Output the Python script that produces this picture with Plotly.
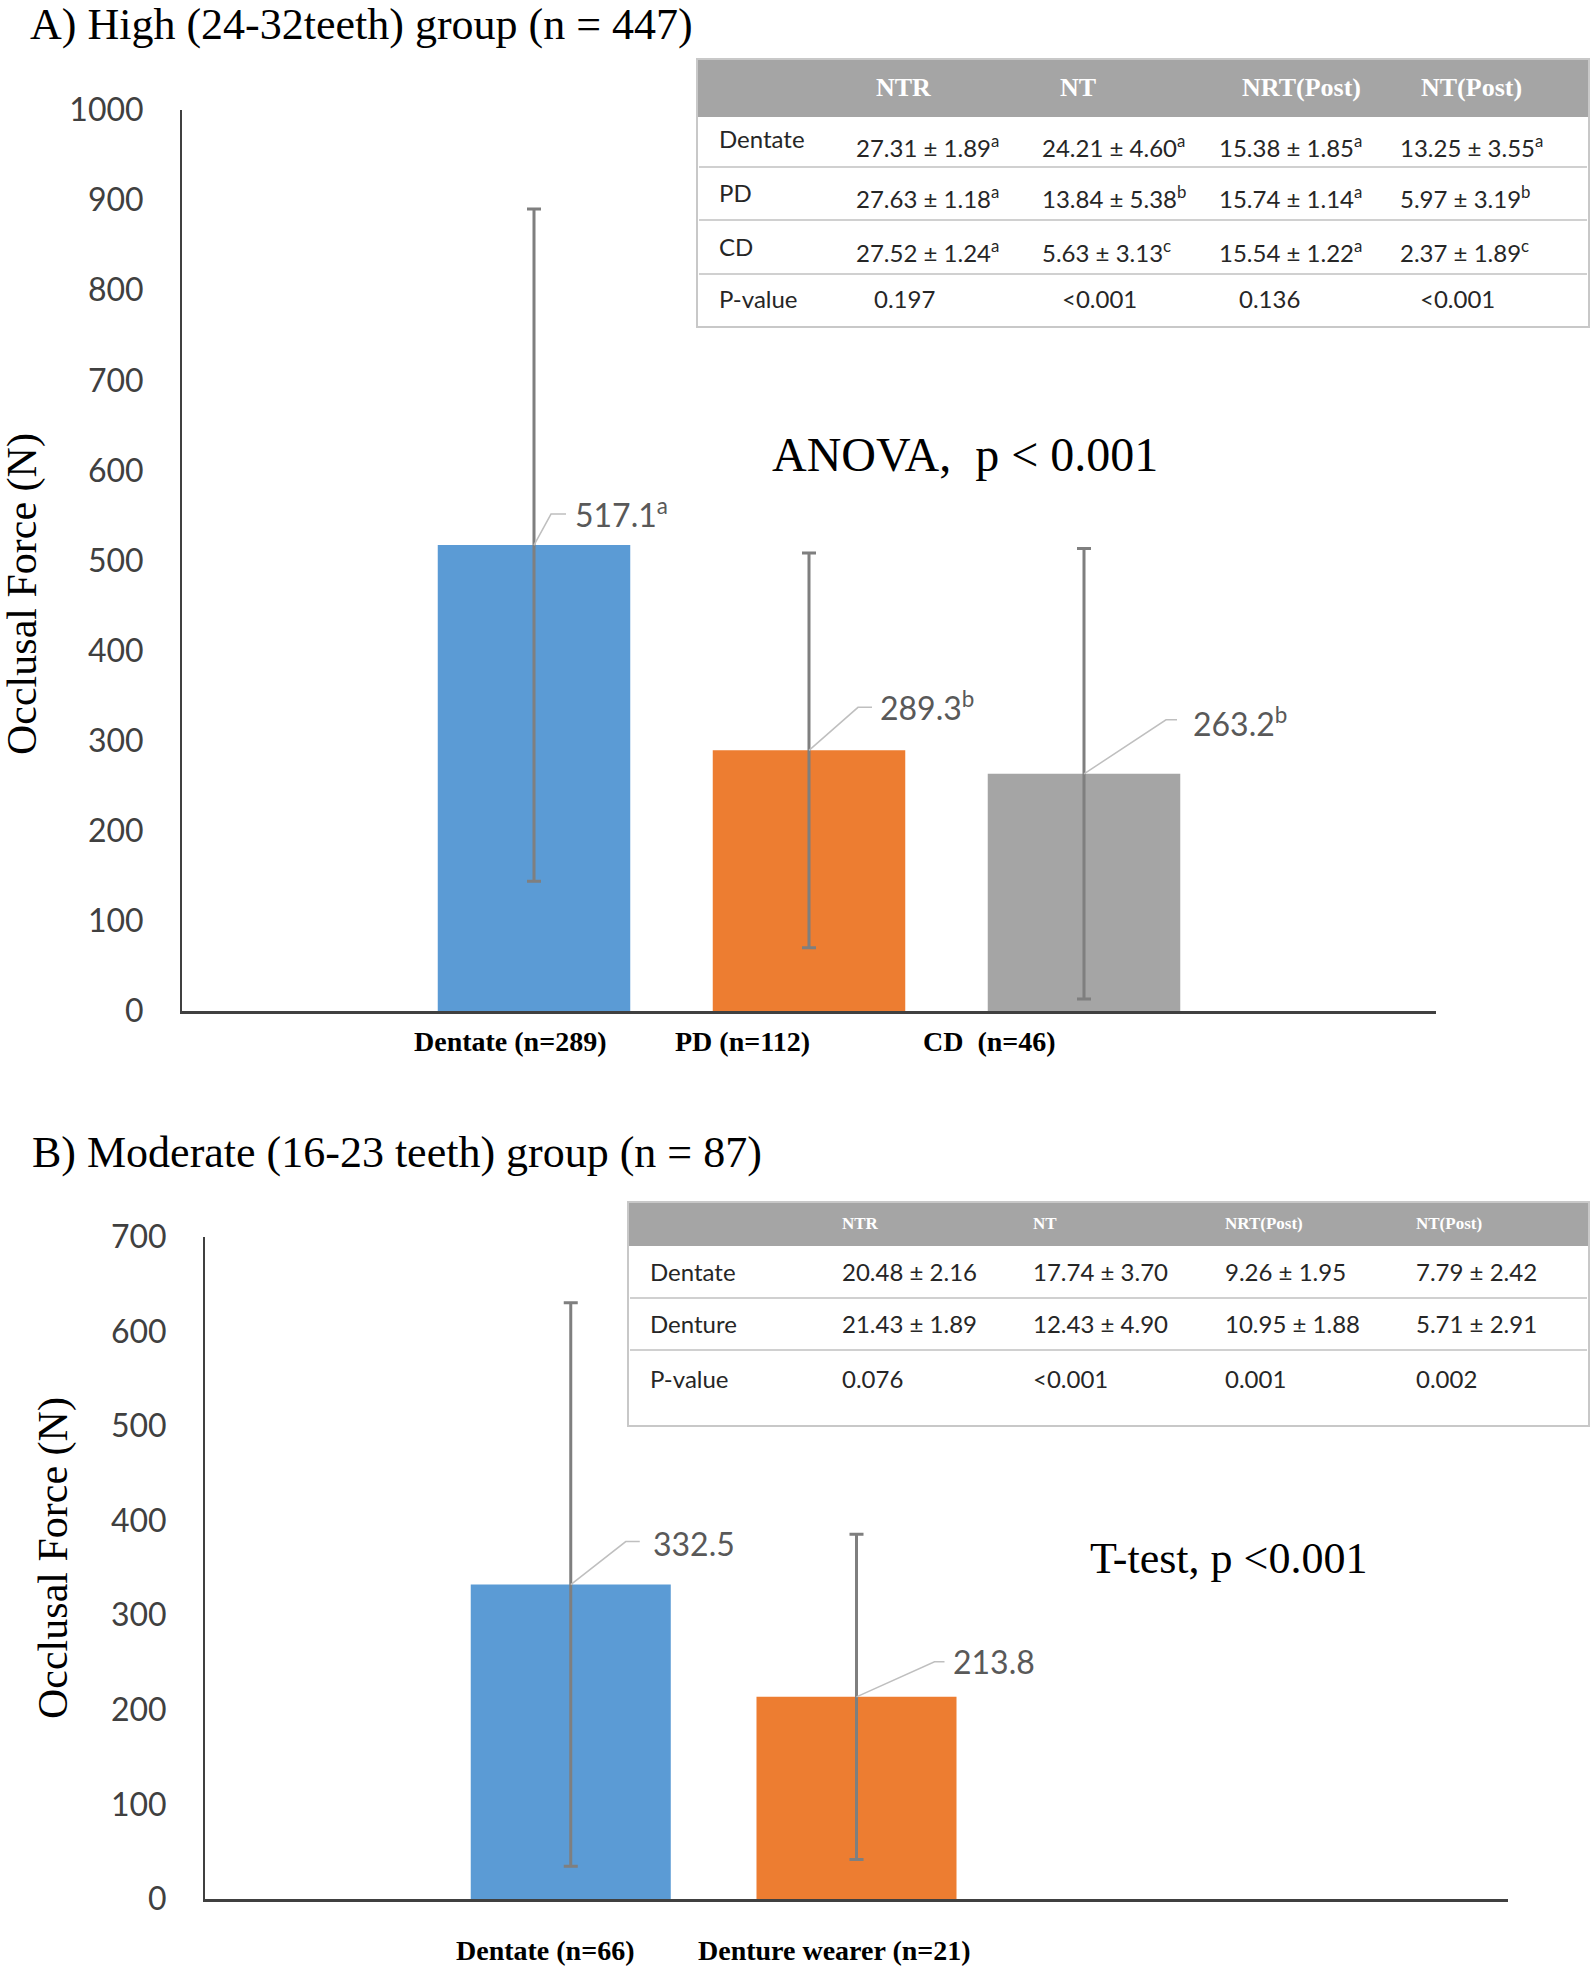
import plotly.graph_objects as go

W, H = 1594, 1970

# ---------------- data ----------------
# Panel A
a_groups = ["Dentate (n=289)", "PD (n=112)", "CD\u00a0\u00a0(n=46)"]
a_means = [517.1, 289.3, 263.2]
a_sd = [373, 219, 250]
a_sup = ["a", "b", "b"]
a_colors = ["#5B9BD5", "#ED7D31", "#A5A5A5"]

# Panel B
b_groups = ["Dentate (n=66)", "Denture wearer (n=21)"]
b_means = [332.5, 213.8]
b_sd = [298, 172]
b_colors = ["#5B9BD5", "#ED7D31"]

# Table A
ta_cols = ["NTR", "NT", "NRT(Post)", "NT(Post)"]
ta_rows = ["Dentate", "PD", "CD"]
ta_dentate = ["27.31 ± 1.89", "24.21 ± 4.60", "15.38 ± 1.85", "13.25 ± 3.55"]
ta_dentate_sup = ["a", "a", "a", "a"]
ta_pd = ["27.63 ± 1.18", "13.84 ± 5.38", "15.74 ± 1.14", "5.97 ± 3.19"]
ta_pd_sup = ["a", "b", "a", "b"]
ta_cd = ["27.52 ± 1.24", "5.63 ± 3.13", "15.54 ± 1.22", "2.37 ± 1.89"]
ta_cd_sup = ["a", "c", "a", "c"]
ta_p = ["0.197", "<0.001", "0.136", "<0.001"]

# Table B
tb_cols = ["NTR", "NT", "NRT(Post)", "NT(Post)"]
tb_rows = ["Dentate", "Denture", "P-value"]
tb_dentate = ["20.48 ± 2.16", "17.74 ± 3.70", "9.26 ± 1.95", "7.79 ± 2.42"]
tb_denture = ["21.43 ± 1.89", "12.43 ± 4.90", "10.95 ± 1.88", "5.71 ± 2.91"]
tb_p = ["0.076", "<0.001", "0.001", "0.002"]

# ---------------- helpers ----------------
def px(x):
    return x / W

def py(y):
    return 1 - y / H

SERIF = "Liberation Serif, Times New Roman, serif"
SANS = "Lato, Carlito, Calibri, sans-serif"
TICKC = "#404040"
LABC = "#595959"

fig = go.Figure()

fig.add_trace(go.Bar(
    x=list(range(len(a_means))), y=a_means, width=0.70,
    marker=dict(color=a_colors, line=dict(width=0)),
    error_y=dict(type="data", array=a_sd, color="#7F7F7F", thickness=3, width=7),
    xaxis="x", yaxis="y", hoverinfo="skip"))

fig.add_trace(go.Bar(
    x=list(range(len(b_means))), y=b_means, width=0.70,
    marker=dict(color=b_colors, line=dict(width=0)),
    error_y=dict(type="data", array=b_sd, color="#7F7F7F", thickness=3, width=7),
    xaxis="x2", yaxis="y2", hoverinfo="skip"))

shapes = []
annotations = []

# ---- leader lines + data labels ----
a_lead = [(17, 31, 32, 39, 32), (49, 43, 63, 69, 44), (82, 54, 93, 107, 52)]
b_lead = [(55, 43, 69, 80, 41), (78, 35, 88, 94, 35)]

def add_labels(means, sups, leads, xr, yr):
    for i, m in enumerate(means):
        dx1, dy, dx2, tx, ty = leads[i]
        shapes.append(dict(type="path", xref=xr, yref=yr, xsizemode="pixel", ysizemode="pixel",
                           xanchor=i, yanchor=m,
                           path=f"M0,0 L{dx1},{dy} L{dx2},{dy}",
                           line=dict(color="#BFBFBF", width=1.5), layer="above"))
        txt = f"{m}" + (f"<sup>{sups[i]}</sup>" if sups else "")
        annotations.append(dict(x=i, y=m, xref=xr, yref=yr, text=txt, showarrow=False,
                                xanchor="left", yanchor="middle", xshift=tx, yshift=ty,
                                font=dict(family=SANS, size=32, color=LABC)))

add_labels(a_means, a_sup, a_lead, "x", "y")
add_labels(b_means, None, b_lead, "x2", "y2")

# ---- category labels ----
a_lab_shift = [-24, -67, -95]
for i, g in enumerate(a_groups):
    annotations.append(dict(x=i, y=py(1041), xref="x", yref="paper", text=f"<b>{g}</b>", showarrow=False,
                            xanchor="center", yanchor="middle", xshift=a_lab_shift[i],
                            font=dict(family=SERIF, size=28, color="#000000")))
b_lab_shift = [-26, -22]
for i, g in enumerate(b_groups):
    annotations.append(dict(x=i, y=py(1950), xref="x2", yref="paper", text=f"<b>{g}</b>", showarrow=False,
                            xanchor="center", yanchor="middle", xshift=b_lab_shift[i],
                            font=dict(family=SERIF, size=28, color="#000000")))

# ---- titles, axis titles, test text ----
annotations += [
    dict(x=px(28), y=py(25), xref="paper", yref="paper", text="A) High (24-32teeth) group (n = 447)",
         showarrow=False, xanchor="left", yanchor="middle", font=dict(family=SERIF, size=44, color="#000")),
    dict(x=px(30), y=py(1152), xref="paper", yref="paper", text="B) Moderate (16-23 teeth) group (n = 87)",
         showarrow=False, xanchor="left", yanchor="middle", font=dict(family=SERIF, size=44, color="#000")),
    dict(x=px(22), y=py(594), xref="paper", yref="paper", text="Occlusal Force (N)", textangle=-90,
         showarrow=False, xanchor="center", yanchor="middle", font=dict(family=SERIF, size=42, color="#000")),
    dict(x=px(53), y=py(1558), xref="paper", yref="paper", text="Occlusal Force (N)", textangle=-90,
         showarrow=False, xanchor="center", yanchor="middle", font=dict(family=SERIF, size=42, color="#000")),
    dict(x=px(965), y=py(455), xref="paper", yref="paper", text="ANOVA,  p < 0.001",
         showarrow=False, xanchor="center", yanchor="middle", font=dict(family=SERIF, size=48, color="#000")),
    dict(x=px(1228), y=py(1558), xref="paper", yref="paper", text="T-test, p <0.001",
         showarrow=False, xanchor="center", yanchor="middle", font=dict(family=SERIF, size=44, color="#000")),
]

# ---------------- Table A ----------------
TBLC = "#262626"
def rect(x0, y0, x1, y1, fill=None, line=None, lw=2):
    shapes.append(dict(type="rect", xref="paper", yref="paper", x0=px(x0), x1=px(x1), y0=py(y1), y1=py(y0),
                       fillcolor=fill if fill else "rgba(0,0,0,0)",
                       line=dict(color=line if line else "rgba(0,0,0,0)", width=lw), layer="above"))

def hline(x0, x1, y, color="#D0D0D0", lw=2):
    shapes.append(dict(type="line", xref="paper", yref="paper", x0=px(x0), x1=px(x1), y0=py(y), y1=py(y),
                       line=dict(color=color, width=lw), layer="above"))

def text(x, y, t, size, family=SANS, color=TBLC, anchor="left"):
    annotations.append(dict(x=px(x), y=py(y), xref="paper", yref="paper", text=t, showarrow=False,
                            xanchor=anchor, yanchor="middle", font=dict(family=family, size=size, color=color)))

rect(697, 59, 1589, 327, fill="#FFFFFF", line="#C8C8C8", lw=2)
rect(698, 60, 1588, 117, fill="#A5A5A5")
for yy in [167, 220, 274]:
    hline(699, 1587, yy)

ta_head_x = [903, 1078, 1301, 1471]
for c, x in zip(ta_cols, ta_head_x):
    text(x, 88, f"<b>{c}</b>", 26, family=SERIF, color="#FFFFFF", anchor="center")

ta_val_x = [854, 1040, 1217, 1398]
ta_lab_y = [139, 192, 246]
ta_val_y = [146, 197, 251]
for r, lab in enumerate(ta_rows):
    text(717, ta_lab_y[r], lab, 24)
for vals, sups, yy in [(ta_dentate, ta_dentate_sup, ta_val_y[0]),
                       (ta_pd, ta_pd_sup, ta_val_y[1]),
                       (ta_cd, ta_cd_sup, ta_val_y[2])]:
    for v, s, x in zip(vals, sups, ta_val_x):
        text(x, yy, f"{v}<sup>{s}</sup>", 24)
text(717, 299, "P-value", 24)
ta_p_x = [904, 1099, 1269, 1457]
for v, x in zip(ta_p, ta_p_x):
    text(x, 299, v, 24, anchor="center")

# ---------------- Table B ----------------
rect(628, 1202, 1589, 1426, fill="#FFFFFF", line="#C8C8C8", lw=2)
rect(629, 1203, 1588, 1246, fill="#A5A5A5")
for yy in [1298, 1350]:
    hline(630, 1587, yy)
tb_x = [840, 1031, 1223, 1414]
for c, x in zip(tb_cols, tb_x):
    text(x, 1223, f"<b>{c}</b>", 17, family=SERIF, color="#FFFFFF")
tb_y = [1271, 1323, 1378]
for r, lab in enumerate(tb_rows):
    text(648, tb_y[r], lab, 24)
for vals, yy in [(tb_dentate, tb_y[0]), (tb_denture, tb_y[1]), (tb_p, tb_y[2])]:
    for v, x in zip(vals, tb_x):
        text(x, yy, v, 24)

# ---------------- layout ----------------
axis_common_y = dict(showgrid=False, zeroline=False, showline=True, linecolor="#404040", linewidth=2,
                     ticks="", tickfont=dict(family=SANS, size=32, color=TICKC), ticklabelstandoff=30,
                     automargin=False)
axis_common_x = dict(showgrid=False, zeroline=False, showline=True, linecolor="#404040", linewidth=2.5,
                     ticks="", showticklabels=False, range=[-1.28, 3.28], automargin=False)

fig.update_layout(
    width=W, height=H, margin=dict(l=0, r=0, t=0, b=0, pad=0, autoexpand=False),
    paper_bgcolor="white", plot_bgcolor="white", showlegend=False,
    xaxis=dict(domain=[px(182), px(1436)], anchor="y", **axis_common_x),
    yaxis=dict(domain=[py(1011), py(110)], anchor="x", range=[0, 1000], dtick=100, **axis_common_y),
    xaxis2=dict(domain=[px(205), px(1508)], anchor="y2", **axis_common_x),
    yaxis2=dict(domain=[py(1899), py(1237)], anchor="x2", range=[0, 700], dtick=100, **axis_common_y),
    shapes=shapes, annotations=annotations,
)

fig.write_html("out.html", config={"displayModeBar": False},
               post_script="document.body.style.margin='0';document.body.style.overflow='hidden';")
